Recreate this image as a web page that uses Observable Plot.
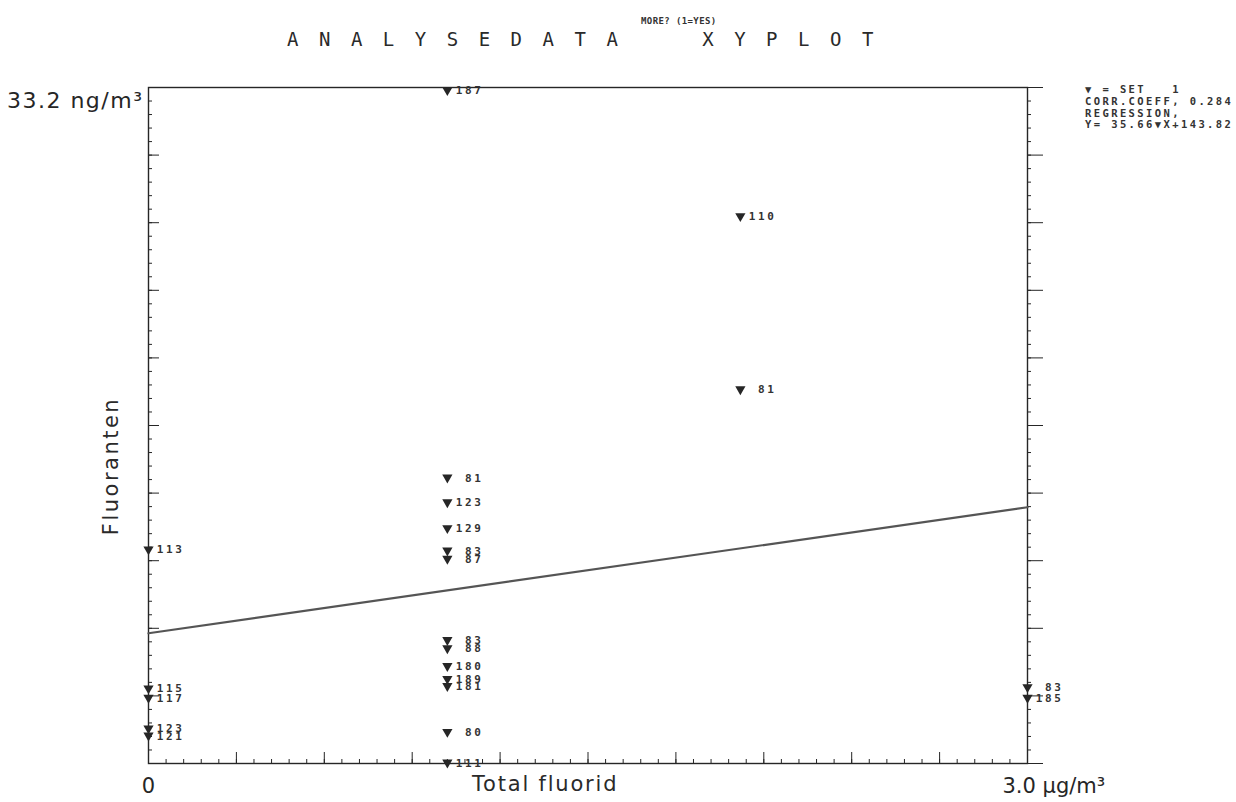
<!DOCTYPE html>
<html>
<head>
<meta charset="utf-8">
<script src="https://cdn.jsdelivr.net/npm/d3@7"></script>
<script src="https://cdn.jsdelivr.net/npm/@observablehq/plot@0.6"></script>
<style>
  html, body { margin: 0; padding: 0; background: #fff; }
  body { position: relative; width: 1236px; height: 802px; overflow: hidden; color: #222; }
  #header { height: 55px; position: relative; }
  .title { position: absolute; left: 287px; top: 28px; font-family: "DejaVu Sans Mono", monospace;
           font-size: 19px; letter-spacing: 20.5px; white-space: pre; color: #2a2a2a; }
  .prompt { position: absolute; left: 641px; top: 16px; font-family: "DejaVu Sans Mono", monospace;
            font-size: 9px; font-weight: bold; white-space: pre; letter-spacing: 0.4px; color: #333; }
  .legend { position: absolute; left: 1085px; top: 84px; font-family: "DejaVu Sans Mono", monospace;
            font-size: 10.5px; font-weight: bold; line-height: 11.8px; letter-spacing: 2.4px; white-space: pre; color: #333; }
  .hand { position: absolute; font-family: "DejaVu Sans", sans-serif; color: #2a2a2a; white-space: pre; }
</style>
</head>
<body>
<div id="header">
  <div class="title">ANALYSEDATA  XYPLOT</div>
  <div class="prompt">MORE? (1=YES)</div>
</div>
<div id="chart"></div>
<div class="legend" id="legend"></div>
<div class="hand" style="left:111px; top:466px; font-size:21px; letter-spacing:2.5px; transform: translate(-50%,-50%) rotate(-90deg);">Fluoranten</div>
<div class="hand" style="left:472px; top:772px; font-size:21px; letter-spacing:1.8px;">Total fluorid</div>
<script>
// Sample points: total fluoride (x) against fluoranthene (y, plotter units) with sample numbers
const fluorid = [0, 0, 0, 0, 0,
                 1.02, 1.02, 1.02, 1.02, 1.02, 1.02, 1.02, 1.02, 1.02, 1.02, 1.02, 1.02, 1.02,
                 2.02, 2.02,
                 3, 3];
const fluoranten = [215, 97, 89, 63, 57,
                    605, 276, 255, 233, 214, 207, 138, 131, 116, 105, 99, 60, 34,
                    498, 351,
                    98, 89];
const sampleNo = ["113", "115", "117", "123", "121",
                  "187", "81", "123", "129", "83", "87", "83", "88", "180", "189", "181", "80", "111",
                  "110", "81",
                  "83", "185"];

// Regression reported by the program
const corrCoeff = 0.284;
const slope = 35.66;
const intercept = 143.82;

// Axis ranges and labels
const xDomain = [0, 3];
const yDomain = [33.2, 607.2];
const xTickLabels = ["0", "3.0 µg/m³"];
const yTopLabel = "33.2 ng/m³";

const points = fluorid.map((x, i) => ({x, y: fluoranten[i], id: sampleNo[i]}));
const regLine = xDomain.map(x => ({x, y: slope * x + intercept}));

document.getElementById("legend").textContent =
  "▼ = SET   1\n" +
  "CORR.COEFF, " + corrCoeff.toFixed(3) + "\n" +
  "REGRESSION,\n" +
  "Y= " + slope.toFixed(2) + "▼X+" + intercept.toFixed(2);

const ink = "#262626";
const hand = "DejaVu Sans, sans-serif";
const xMajor = d3.range(0, 11).map(i => xDomain[0] + i * (xDomain[1] - xDomain[0]) / 10);
const xMinor = d3.range(0, 51).map(i => xDomain[0] + i * (xDomain[1] - xDomain[0]) / 50);
const yMajor = d3.range(0, 11).map(i => yDomain[0] + i * (yDomain[1] - yDomain[0]) / 10);
const yMinor = d3.range(0, 51).map(i => yDomain[0] + i * (yDomain[1] - yDomain[0]) / 50);
const none = () => "";

const chart = Plot.plot({
  width: 1236,
  height: 747,
  marginTop: 32,
  marginBottom: 39,
  marginLeft: 148,
  marginRight: 209,
  style: {background: "#fff", color: ink},
  x: {domain: xDomain},
  y: {domain: yDomain},
  marks: [
    Plot.frame({stroke: ink, strokeWidth: 1.4}),
    // bottom axis: ticks point up into the plot
    Plot.axisX({anchor: "bottom", ticks: xMinor, tickSize: -4, tickFormat: none, label: null, stroke: ink}),
    Plot.axisX({anchor: "bottom", ticks: xMajor, tickSize: -11, tickFormat: none, label: null, stroke: ink}),
    // x end labels
    Plot.axisX({anchor: "bottom", ticks: [xDomain[0]], tickSize: 0, tickPadding: 15,
                tickFormat: () => xTickLabels[0], label: null, fontSize: 21, fontFamily: hand, fill: ink}),
    Plot.axisX({anchor: "bottom", ticks: [xDomain[1]], tickSize: 0, tickPadding: 15, textAnchor: "start", dx: -25,
                tickFormat: () => xTickLabels[1], label: null, fontSize: 21, fontFamily: hand, fill: ink}),
    // left axis: ticks point right into the plot
    Plot.axisY({anchor: "left", ticks: yMinor, tickSize: -4, tickFormat: none, label: null, stroke: ink}),
    Plot.axisY({anchor: "left", ticks: yMajor, tickSize: -11, tickFormat: none, label: null, stroke: ink}),
    Plot.axisY({anchor: "left", ticks: [yDomain[1]], tickSize: 0, tickPadding: 5, dy: 13,
                tickFormat: () => yTopLabel, label: null, fontSize: 22, fontFamily: hand, fill: ink}),
    // right axis: ticks point outward
    Plot.axisY({anchor: "right", ticks: yMinor, tickSize: 3, tickFormat: none, label: null, stroke: ink}),
    Plot.axisY({anchor: "right", ticks: yMajor, tickSize: 15, tickFormat: none, label: null, stroke: ink}),
    // regression line
    Plot.line(regLine, {x: "x", y: "y", stroke: "#555", strokeWidth: 2.2}),
    // sample markers and numbers
    Plot.dot(points, {x: "x", y: "y", symbol: "triangle", rotate: 180, r: 3.8, fill: ink, stroke: "none"}),
    Plot.text(points, {x: "x", y: "y", text: "id", textAnchor: "end", dx: 36, dy: 0.5,
                       fontSize: 11, fontWeight: "bold", fontFamily: "DejaVu Sans Mono", fill: "#333"})
  ]
});

// plotter-style spacing for the sample numbers and the top label
d3.select(chart).selectAll("g[font-family='DejaVu Sans Mono']").attr("letter-spacing", "2.6px");
d3.select(chart).selectAll("g[font-size='22']").attr("letter-spacing", "1.5px");

document.getElementById("chart").appendChild(chart);
</script>
</body>
</html>
